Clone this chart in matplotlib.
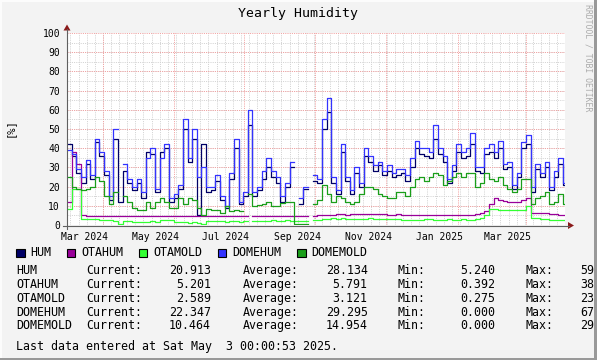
import datetime as dt
import numpy as np
import matplotlib
matplotlib.use("Agg")
import matplotlib.pyplot as plt
from matplotlib.patches import Rectangle, Polygon

nan = np.nan

# ---------------- data ----------------
START = dt.date(2024, 3, 1)
STEP_DAYS = 4

hum = [42, 36, 27, 22, 32, 24, 43, 36, 26, 13,
       45, 12, 28, 22, 18, 22, 14, 38, 37, 17,
       38, 40, 12, 14, 19, 50, 33, 45, 5.3, 42,
       17, 18, 23, 13, 9, 24, 40, 11, 15, 52,
       15, 18, 24, 30, 25, 22, 12, 20, 30, nan,
       11, 19, nan, 23, 22, 50, 59, 22, 16, 38,
       23, 16, 27, 20, 36, 33, 28, 31, 26, 28,
       25, 26, 27, 23, 30, 40, 37, 36, 35, 45,
       37, 33, 22, 28, 38, 35, 36, 42, 28, 27,
       37, 38, 35, 40, 29, 30, 19, 25, 40, 42,
       17, 29, 25, 30, 18, 25, 32, 21]

otahum = [12, 38, 32, 5, 4.7, 4.7, 4.6, 4.6, 4.6, 4.6,
          4.6, 4.6, 4.6, 4.6, 4.6, 4.6, 4.5, 4.5, 4.5, 4.5,
          4.5, 4.5, 4.5, 4.5, 4.5, 4.5, 4.5, 4.5, 4.5, 4.5,
          4.5, 4.5, 4.5, 4.5, 4.6, 4.6, 4.6, 4.6, 4.6, nan,
          4.6, 4.6, 4.6, 4.6, 4.6, 4.6, 4.6, 4.6, 4.6, 4.6,
          4.6, 4.6, nan, 4.8, 5.0, 5.2, 5.4, 5.2, 5.5, 5.6,
          5.4, 5.6, 5.8, 5.6, 5.6, 5.8, 5.6, 5.5, 5.6, 5.4,
          5.4, 5.5, 5.3, 5.2, 5.2, 5.0, 5.0, 5.0, 5.1, 5.1,
          5.1, 5.1, 5.2, 5.2, 5.1, 5.2, 5.2, 5.4, 5.6, 6.0,
          7.5, 11, 14, 13, 12.5, 12, 12, 12, 13, 14,
          6.3, 6.3, 6.5, 6.0, 5.8, 5.5, 5.3, 5.2]

otamold = [8.5, 19, 19, 3.3, 3.0, 3.0, 3.0, 2.8, 2.8, 2.7,
           2.3, 0.5, 2.0, 2.0, 1.6, 1.5, 1.5, 1.4, 2.0, 1.5,
           2.5, 2.5, 2.5, 1.8, 1.5, 1.5, 1.2, 1.5, 1.0, 0.5,
           2.0, 2.3, 2.2, 2.0, 1.5, 2.2, 2.3, 1.8, 2.0, nan,
           2.0, 2.3, 2.0, 2.2, 2.5, 2.0, 2.3, 2.5, 2.0, 2.3,
           2.0, 2.3, nan, 2.5, 2.5, 3.0, 3.2, 3.5, 3.2, 3.5,
           3.0, 3.3, 3.0, 3.0, 3.3, 3.5, 3.0, 3.2, 3.0, 3.0,
           3.2, 3.0, 2.8, 2.5, 2.7, 2.5, 2.8, 3.0, 3.0, 2.8,
           2.8, 2.8, 3.0, 2.8, 2.8, 3.0, 2.8, 2.8, 3.0, 3.5,
           5.0, 8.5, 8.5, 8.0, 7.8, 7.8, 7.6, 7.6, 7.8, 10,
           3.8, 3.4, 3.2, 3.0, 2.8, 2.7, 2.6, 2.6]

domehum = [39, 37, 29, 25, 34, 26, 45, 38, 28, 15,
           50, nan, 32, 24, 20, 24, 17, 35, 40, 19,
           35, 42, 14, 16, 21, 55, 35, 50, 25, 30,
           20, 20, 26, 15, 10, 27, 45, 12, 17, 60,
           17, 20, 28, 35, 28, 25, 15, 22, 33, nan,
           14, 20, nan, 26, 24, 55, 66, 25, 18, 42,
           25, 18, 30, 22, 40, 36, 31, 33, 28, 31,
           27, 29, 29, 26, 35, 44, 40, 40, 38, 52,
           40, 36, 24, 31, 42, 38, 40, 48, 30, 30,
           40, 42, 38, 44, 32, 33, 21, 27, 43, 47,
           20, 32, 27, 33, 20, 28, 35, 22]

domemold = [25, 20, 19, 18, 19, 20, 25, 23, 15, 11,
            17, nan, 15, 12, 9, 8, 8, 12, 9, 12,
            14, 12, 9, 9, 14, 11, 14, 13, 9, 5,
            8.5, 8, 8, 6.5, 10, 7.5, 8, 7.5, nan, 16,
            10, 10.5, 11, 12, 10, 10, 11.5, 12, 12, 0.3,
            0.3, 0.3, nan, 11, 13, 21, 16, 12, 15, 14,
            12, 11, 12, 16, 20, 20, 19, 16, 15, 14,
            14, 17, 17, 15, 20, 24, 25, 23, 25, 27,
            26, 21, 23, 25, 27, 25, 27, 27, 20, 22,
            27, 24, 23, 25, 21, 19, 17, 19, 24, 24,
            11, 14, 15, 17, 11, 12, 16, 11]

series_names = ["HUM", "OTAHUM", "OTAMOLD", "DOMEHUM", "DOMEMOLD"]
series_colors = ["#000066", "#990099", "#33ff33", "#3333ff", "#1a9e1a"]
current_vals = [20.913, 5.201, 2.589, 22.347, 10.464]
average_vals = [28.134, 5.791, 3.121, 29.295, 14.954]
min_vals = [5.240, 0.392, 0.275, 0.000, 0.000]
max_visible = ["59", "38", "23", "67", "29"]

x_labels = ["Mar 2024", "May 2024", "Jul 2024", "Sep 2024",
            "Nov 2024", "Jan 2025", "Mar 2025"]
label_months = [(2024, 3), (2024, 5), (2024, 7), (2024, 9),
                (2024, 11), (2025, 1), (2025, 3)]
major_grid_months = [(2024, 4), (2024, 6), (2024, 8), (2024, 10),
                     (2024, 12), (2025, 2), (2025, 4)]
y_ticks = list(range(0, 101, 10))

title = "Yearly Humidity"
last_line = "Last data entered at Sat May  3 00:00:53 2025."

# ---------------- layout ----------------
W, H = 597, 360
MONO = "DejaVu Sans Mono"
fig = plt.figure(figsize=(W / 100, H / 100), dpi=100, facecolor="#f3f3f3")

PL, PR, PT, PB = 67, 565, 33, 225
PX_PER_DAY = 1.159
total_days = (PR - PL) / PX_PER_DAY

ax = fig.add_axes([PL / W, 1 - PB / H, (PR - PL) / W, (PB - PT) / H])
ax.set_facecolor("white")
ax.set_xlim(0, total_days)
ax.set_ylim(0, 100)
for s in ax.spines.values():
    s.set_visible(False)

dot = (0, (1, 1.2))
MINOR_C = "#d2d2d2"
MAJOR_C = "#f2a0a0"
first_monday = (7 - START.weekday()) % 7
for d in np.arange(first_monday, total_days, 7):
    ax.axvline(d, color=MINOR_C, lw=0.72, ls=dot, zorder=1)
for v in range(5, 100, 5):
    ax.axhline(v, color=MINOR_C, lw=0.72, ls=dot, zorder=1)
for (yy, mm) in major_grid_months:
    d = (dt.date(yy, mm, 1) - START).days
    ax.axvline(d, color=MAJOR_C, lw=0.72, ls=dot, zorder=1.5)
for v in range(10, 101, 10):
    ax.axhline(v, color=MAJOR_C, lw=0.72, ls=dot, zorder=1.5)

days = np.arange(len(hum)) * STEP_DAYS
for vals, c in zip([hum, otahum, otamold, domehum, domemold], series_colors):
    y = np.array(vals, float)
    x = np.append(days, days[-1] + STEP_DAYS)
    y = np.append(y, y[-1])
    ax.plot(x, y, drawstyle="steps-post", color=c, lw=0.9, zorder=3)

label_days = [(dt.date(yy, mm, 1) - START).days + 15 for (yy, mm) in label_months]
ax.set_xticks(label_days)
ax.set_xticklabels(x_labels, fontfamily=MONO, fontsize=7)
ax.set_yticks(y_ticks)
ax.set_yticklabels([str(v) for v in y_ticks], fontfamily=MONO, fontsize=7)
ax.tick_params(axis="both", length=0)
ax.tick_params(axis="x", pad=5)
ax.tick_params(axis="y", pad=5)

# overlay in pixel coordinates
ov = fig.add_axes([0, 0, 1, 1], zorder=5)
ov.set_xlim(0, W)
ov.set_ylim(H, 0)
ov.axis("off")
ov.patch.set_alpha(0)

# axes lines & arrows
ov.plot([63, 569], [225.5, 225.5], color="#606060", lw=0.8)
ov.plot([67, 67], [229, 29], color="#606060", lw=0.8)
ov.add_patch(Polygon([(568, 222), (568, 229), (574, 225.5)], closed=True,
                     color="#8b1a1a", lw=0))
ov.add_patch(Polygon([(63.5, 30.5), (70.5, 30.5), (67, 24.5)], closed=True,
                     color="#8b1a1a", lw=0))

# title, y label, watermark
ov.text(298, 14, title, ha="center", va="center", fontfamily=MONO, fontsize=9.5)
ov.text(10, 128, "[%]", ha="center", va="center", rotation=90,
        fontfamily=MONO, fontsize=7.5)
ov.text(588, 4, "RRDTOOL / TOBI OETIKER", ha="center", va="top", rotation=270,
        fontfamily=MONO, fontsize=5.9, color="#ababab")

# legend row
leg_text_x = [30.7, 81, 153, 232.3, 311.7]
for name, c, tx in zip(series_names, series_colors, leg_text_x):
    ov.add_patch(Rectangle((tx - 14.5, 248.5), 8.5, 8.5, facecolor=c,
                           edgecolor="black", lw=0.8))
    ov.text(tx, 252.5, name, ha="left", va="center", fontfamily=MONO, fontsize=8.4)

# stats rows
row_y = [270.7, 284.5, 298.3, 312.1, 325.9]
fs = 8.4
for i, name in enumerate(series_names):
    yy = row_y[i]
    ov.text(16, yy, name, ha="left", va="center", fontfamily=MONO, fontsize=fs)
    ov.text(86.7, yy, "Current:", ha="left", va="center", fontfamily=MONO, fontsize=fs)
    ov.text(211, yy, f"{current_vals[i]:.3f}", ha="right", va="center",
            fontfamily=MONO, fontsize=fs)
    ov.text(242.3, yy, "Average:", ha="left", va="center", fontfamily=MONO, fontsize=fs)
    ov.text(367.7, yy, f"{average_vals[i]:.3f}", ha="right", va="center",
            fontfamily=MONO, fontsize=fs)
    ov.text(397.7, yy, "Min:", ha="left", va="center", fontfamily=MONO, fontsize=fs)
    ov.text(495, yy, f"{min_vals[i]:.3f}", ha="right", va="center",
            fontfamily=MONO, fontsize=fs)
    ov.text(526, yy, "Max:", ha="left", va="center", fontfamily=MONO, fontsize=fs)
    ov.text(580, yy, max_visible[i], ha="left", va="center", fontfamily=MONO, fontsize=fs)

ov.text(16, 346.7, last_line, ha="left", va="center", fontfamily=MONO, fontsize=fs)

# 3D frame
ov.add_patch(Rectangle((0, 0), W, 2, facecolor="#fcfcfc", lw=0))
ov.add_patch(Rectangle((0, 0), 2, H, facecolor="#fcfcfc", lw=0))
ov.add_patch(Rectangle((0, H - 2), W, 2, facecolor="#999999", lw=0))
ov.add_patch(Rectangle((W - 3, 0), 3, H, facecolor="#999999", lw=0))

fig.savefig("out.png", dpi=100, facecolor=fig.get_facecolor())
